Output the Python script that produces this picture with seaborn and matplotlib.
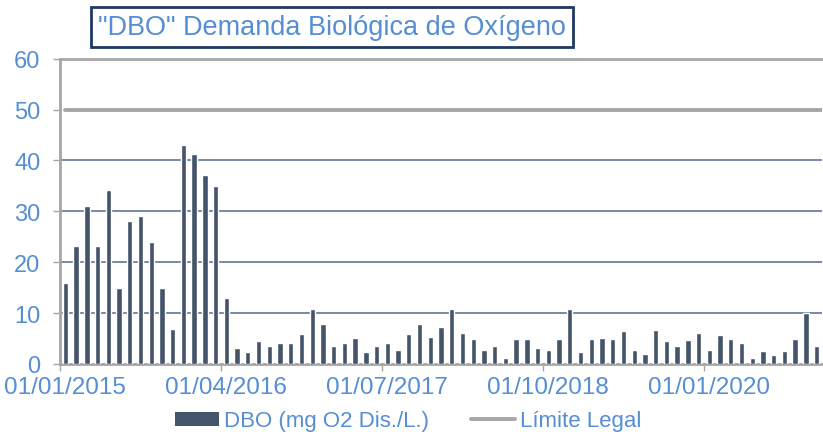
import matplotlib
matplotlib.use("Agg")
import matplotlib.pyplot as plt
import seaborn as sns
import pandas as pd
from matplotlib.lines import Line2D
from matplotlib.patches import Patch

# ---- data ----
months = pd.date_range("2015-01-01", periods=71, freq="MS").strftime("%d/%m/%Y").tolist()
dbo = [16.0, 23.1, 31.0, 23.1, 34.1, 15.0, 28.0, 29.0, 23.9, 15.0, 6.9, 43.0,
       41.2, 37.1, 35.0, 13.0, 3.1, 2.3, 4.6, 3.5, 4.1, 4.1, 5.8, 10.9,
       7.8, 3.5, 4.1, 5.2, 2.3, 3.5, 4.1, 2.7, 5.8, 7.9, 5.4, 7.3,
       10.9, 6.1, 5.0, 2.7, 3.5, 1.1, 5.0, 5.0, 3.1, 2.7, 5.0, 10.9,
       2.3, 5.0, 5.2, 5.0, 6.5, 2.7, 2.0, 6.7, 4.6, 3.5, 4.8, 6.1,
       2.7, 5.6, 5.0, 4.1, 1.1, 2.5, 1.8, 2.5, 5.0, 10.1, 3.5]
limite_legal = 50
tick_labels = ["01/01/2015", "01/04/2016", "01/07/2017", "01/10/2018", "01/01/2020"]
y_ticks = [0, 10, 20, 30, 40, 50, 60]
title = '"DBO" Demanda Biológica de Oxígeno'
serie_dbo = "DBO (mg O2 Dis./L.)"
serie_limite = "Límite Legal"

# ---- style ----
sns.set_theme(style="white")
plt.rcParams["font.family"] = ["Liberation Sans", "DejaVu Sans"]

BAR = "#44546A"
TXT = "#558ED5"
AXC = "#A6A6A6"
GRID = "#54698F"

fig = plt.figure(figsize=(8.23, 4.35), dpi=100)
ax = fig.add_axes([60 / 823, 1 - 365 / 435, 762 / 823, (365 - 59.6) / 435])

df = pd.DataFrame({"mes": months, "dbo": dbo})
sns.barplot(data=df, x="mes", y="dbo", order=months, color=BAR, saturation=1,
            width=0.5, ax=ax, zorder=3)

ax.set_xlim(-0.5, len(months) - 0.5)
ax.set_ylim(0, 60)

for y in [10, 20, 30, 40]:
    ax.axhline(y, color=GRID, lw=1.1, zorder=1)
ax.axhline(limite_legal, xmin=0.007, color=AXC, lw=2.8, zorder=2)

for s in ["left", "bottom", "top"]:
    ax.spines[s].set_color(AXC)
    ax.spines[s].set_linewidth(2)
ax.spines["right"].set_visible(False)

ax.set_yticks(y_ticks)
ax.set_yticklabels([str(v) for v in y_ticks])
ax.tick_params(axis="y", colors=AXC, labelcolor=TXT, labelsize=17, length=5,
               width=1, direction="out", left=True, pad=9)

idx = [months.index(t) for t in tick_labels]
ax.set_xticks(idx)
ax.set_xticklabels(tick_labels)
ax.set_xticks([i - 0.5 for i in idx], minor=True)
ax.tick_params(axis="x", which="major", length=0, labelcolor=TXT, labelsize=17.5, pad=9)
ax.tick_params(axis="x", which="minor", length=5, width=1, color=AXC, bottom=True)
ax.set_xlabel("")
ax.set_ylabel("")

handles = [Patch(facecolor=BAR, edgecolor="none"),
           Line2D([0], [0], color=AXC, lw=2.8)]
fig.legend(handles, [serie_dbo, serie_limite], loc="center",
           bbox_to_anchor=(408 / 823, 1 - 422 / 435), ncol=2, frameon=False,
           fontsize=16, labelcolor=TXT, handlelength=2.0, handleheight=0.6,
           handletextpad=0.2, columnspacing=1.9)

fig.text(332 / 823, 1 - 28 / 435, title, ha="center", va="center",
         fontsize=19.5, color=TXT,
         bbox=dict(boxstyle="square,pad=0.25", facecolor="white",
                   edgecolor="#1F3864", linewidth=2))

fig.savefig("out.png", dpi=100)
